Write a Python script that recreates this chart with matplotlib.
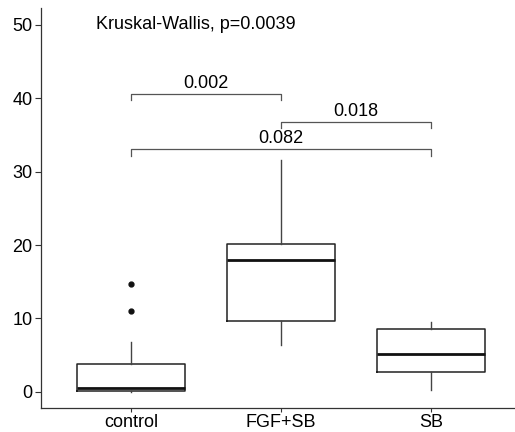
import matplotlib.pyplot as plt

plt.rcParams['font.family'] = ['Liberation Sans', 'DejaVu Sans']

groups = ['control', 'FGF+SB', 'SB']
whislo = [0.0, 6.35, 0.27]
q1 = [0.05, 9.7, 2.77]
med = [0.5, 18.0, 5.2]
q3 = [3.77, 20.1, 8.6]
whishi = [6.8, 31.6, 9.5]
fliers = [[14.75, 11.08], [], []]

# pairwise comparisons: (group i, group j, bracket height, p label)
pairs = [(0, 1, 40.6, '0.002'), (1, 2, 36.8, '0.018'), (0, 2, 33.1, '0.082')]
kw_label = 'Kruskal-Wallis, p=0.0039'

fs = 13
fig = plt.figure(figsize=(5.15, 4.32), dpi=100)
ax = fig.add_axes([41 / 515, 24 / 432, 474 / 515, 400 / 432])

stats = []
for i, g in enumerate(groups):
    stats.append(dict(label=g, whislo=whislo[i], q1=q1[i], med=med[i],
                      q3=q3[i], whishi=whishi[i], fliers=fliers[i]))

pos = [1, 2, 3]
ax.bxp(stats, positions=pos, widths=0.72, showcaps=False,
       boxprops=dict(color='#222222', linewidth=1.1),
       whiskerprops=dict(color='#444444', linewidth=1.0),
       medianprops=dict(color='#111111', linewidth=2.0),
       flierprops=dict(marker='o', markersize=3.5, markerfacecolor='#111111',
                       markeredgecolor='#111111'))

lc = '#555555'
for i, j, h, lab in pairs:
    x1, x2 = pos[i], pos[j]
    ax.plot([x1, x1, x2, x2], [h - 0.9, h, h, h - 0.9], color=lc, linewidth=0.9)
    ax.text((x1 + x2) / 2, h + 0.2, lab, ha='center', va='bottom', fontsize=fs)

ax.text(0.77, 50, kw_label, ha='left', va='center', fontsize=fs)

ax.set_xlim(0.4, 3.56)
ax.set_ylim(-2.2, 52.3)
ax.set_yticks([0, 10, 20, 30, 40, 50])
ax.set_xticks(pos)
ax.set_xticklabels(groups)
ax.tick_params(labelsize=fs, color='#333333', width=0.8)
ax.tick_params(axis='y', length=4, pad=2)
ax.tick_params(axis='x', length=3, pad=1)
for s in ['top', 'right']:
    ax.spines[s].set_visible(False)
for s in ['left', 'bottom']:
    ax.spines[s].set_color('#333333')
    ax.spines[s].set_linewidth(0.9)

fig.savefig('out.png', dpi=100)
